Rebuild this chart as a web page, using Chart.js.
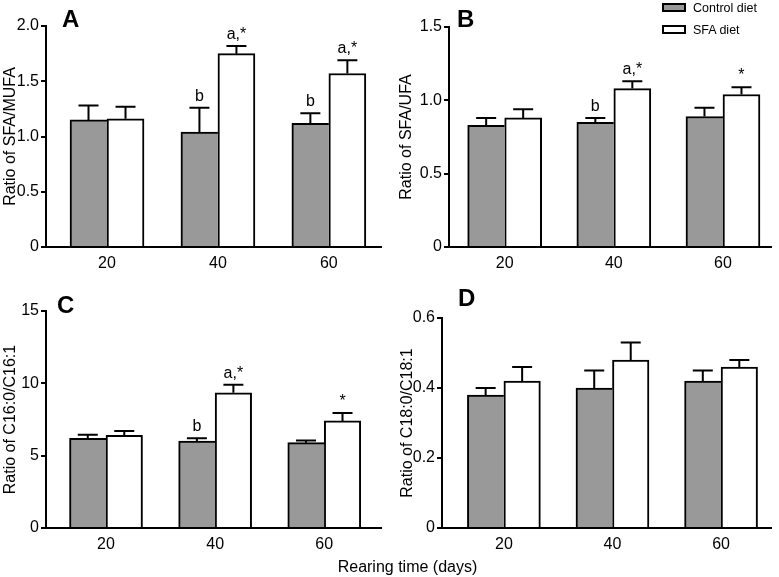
<!DOCTYPE html>
<html>
<head>
<meta charset="utf-8">
<script src="https://cdn.jsdelivr.net/npm/chart.js@4.4.0/dist/chart.umd.min.js"></script>
<style>
  body { margin: 0; background: #fff; }
  #fig { position: relative; width: 779px; height: 577px; font-family: 'Liberation Sans', Arial, sans-serif; color: #000; }
  #fig canvas { position: absolute; }
  .legend { position: absolute; left: 662px; font-size: 12.5px; line-height: 14px; }
  .legend span.box { display: inline-block; width: 20px; height: 5px; border: 2px solid #000; vertical-align: middle; margin-right: 7px; position: relative; top: -1px; }
  #xtitle { position: absolute; left: 0; width: 815px; top: 558px; text-align: center; font-size: 16px; }
</style>
</head>
<body>
<div id="fig">
  <canvas id="panelA" width="390" height="280" style="left:0;top:0"></canvas>
  <canvas id="panelB" width="389" height="280" style="left:390px;top:0"></canvas>
  <canvas id="panelC" width="390" height="297" style="left:0;top:280px"></canvas>
  <canvas id="panelD" width="389" height="297" style="left:390px;top:280px"></canvas>
  <div class="legend" style="top:1px"><span class="box" id="boxControl"></span>Control diet</div>
  <div class="legend" style="top:23px"><span class="box" id="boxSfa"></span>SFA diet</div>
  <div id="xtitle">Rearing time (days)</div>
</div>
<script>
Chart.defaults.font.family = "'Liberation Sans', Arial, sans-serif";
Chart.defaults.color = '#000';

const days = ['20', '40', '60'];
const seriesNames = ['Control diet', 'SFA diet'];
const controlColor = '#999999';
const sfaColor = '#ffffff';

// A: SFA/MUFA
const sfaMufaControl = [1.15, 1.04, 1.12];
const sfaMufaControlErr = [0.13, 0.22, 0.09];
const sfaMufaSfa = [1.16, 1.75, 1.57];
const sfaMufaSfaErr = [0.11, 0.07, 0.12];
const sfaMufaControlMarks = ['', 'b', 'b'];
const sfaMufaSfaMarks = ['', 'a,*', 'a,*'];

// B: SFA/UFA
const sfaUfaControl = [0.83, 0.85, 0.89];
const sfaUfaControlErr = [0.05, 0.03, 0.06];
const sfaUfaSfa = [0.88, 1.08, 1.04];
const sfaUfaSfaErr = [0.06, 0.05, 0.05];
const sfaUfaControlMarks = ['', 'b', ''];
const sfaUfaSfaMarks = ['', 'a,*', '*'];

// C: C16:0/C16:1
const c16Control = [6.2, 6.0, 5.9];
const c16ControlErr = [0.25, 0.2, 0.15];
const c16Sfa = [6.4, 9.35, 7.4];
const c16SfaErr = [0.3, 0.55, 0.55];
const c16ControlMarks = ['', 'b', ''];
const c16SfaMarks = ['', 'a,*', '*'];

// D: C18:0/C18:1
const c18Control = [0.38, 0.40, 0.42];
const c18ControlErr = [0.02, 0.05, 0.03];
const c18Sfa = [0.42, 0.48, 0.46];
const c18SfaErr = [0.04, 0.05, 0.02];

document.getElementById('boxControl').style.background = controlColor;
document.getElementById('boxSfa').style.background = sfaColor;

// error bars + significance letters
const errorBars = {
  id: 'errorBars',
  afterDatasetsDraw(chart) {
    const ctx = chart.ctx;
    const y = chart.scales.y;
    chart.data.datasets.forEach((ds, di) => {
      chart.getDatasetMeta(di).data.forEach((bar, i) => {
        const top = y.getPixelForValue(ds.data[i].y + ds.errors[i]);
        ctx.save();
        ctx.strokeStyle = '#000';
        ctx.lineWidth = 2;
        ctx.beginPath();
        ctx.moveTo(bar.x, bar.y);
        ctx.lineTo(bar.x, top);
        ctx.moveTo(bar.x - 10, top);
        ctx.lineTo(bar.x + 10, top);
        ctx.stroke();
        if (ds.marks && ds.marks[i]) {
          ctx.fillStyle = '#000';
          ctx.font = "16px 'Liberation Sans', Arial, sans-serif";
          ctx.textAlign = 'center';
          ctx.textBaseline = 'alphabetic';
          ctx.fillText(ds.marks[i], bar.x, top - 7);
        }
        ctx.restore();
      });
    });
  }
};

const panelLetter = {
  id: 'panelLetter',
  afterDraw(chart, args, opts) {
    const ctx = chart.ctx;
    ctx.save();
    ctx.fillStyle = '#000';
    ctx.font = "bold 24px 'Liberation Sans', Arial, sans-serif";
    ctx.textBaseline = 'alphabetic';
    ctx.fillText(opts.text, opts.x, opts.y);
    ctx.restore();
  }
};

function toPoints(values) {
  return values.map((v, i) => ({ x: i, y: v }));
}

function makePanel(p) {
  const el = document.getElementById(p.id);
  const W = el.width, H = el.height;
  new Chart(el, {
    type: 'bar',
    data: {
      datasets: [
        {
          label: seriesNames[0],
          data: toPoints(p.control),
          errors: p.controlErr,
          marks: p.controlMarks,
          backgroundColor: controlColor,
          borderColor: '#000',
          borderWidth: { top: 2, left: 2, right: 0, bottom: 0 },
          borderSkipped: false,
          barThickness: p.barW
        },
        {
          label: seriesNames[1],
          data: toPoints(p.sfa),
          errors: p.sfaErr,
          marks: p.sfaMarks,
          backgroundColor: sfaColor,
          borderColor: '#000',
          borderWidth: { top: 2, left: 2, right: 2, bottom: 0 },
          borderSkipped: false,
          barThickness: p.barW
        }
      ]
    },
    options: {
      responsive: false,
      animation: false,
      devicePixelRatio: 1,
      layout: { padding: { top: p.top, right: W - p.right, bottom: 0, left: 0 } },
      plugins: {
        legend: { display: false },
        tooltip: { enabled: false },
        panelLetter: { text: p.letter, x: p.letterX, y: p.letterY }
      },
      scales: {
        x: {
          type: 'linear',
          offset: false,
          min: p.xMin,
          max: p.xMax,
          afterBuildTicks: s => { s.ticks = days.map((d, i) => ({ value: i })); },
          afterFit: s => { s.height = H - p.bottom; },
          ticks: {
            callback: v => days[v],
            font: { size: 16 },
            padding: 7,
            maxRotation: 0
          },
          grid: { display: false, drawTicks: false },
          border: { display: true, color: '#000', width: 2 }
        },
        y: {
          min: 0,
          max: p.yMax,
          afterFit: s => { s.width = p.left; },
          ticks: {
            stepSize: p.yStep,
            font: { size: 16 },
            padding: 2,
            callback: v => v === 0 ? '0' : (p.yStep < 1 ? v.toFixed(1) : String(v))
          },
          grid: { drawOnChartArea: false, drawTicks: true, tickLength: 5, color: '#000', lineWidth: 2 },
          border: { display: true, color: '#000', width: 2 },
          title: {
            display: true,
            text: p.yTitle,
            font: { size: 16 },
            padding: { top: p.titlePad, bottom: 0 }
          }
        }
      }
    },
    plugins: [errorBars, panelLetter]
  });
}

makePanel({
  id: 'panelA', letter: 'A', letterX: 62, letterY: 27,
  control: sfaMufaControl, controlErr: sfaMufaControlErr, controlMarks: sfaMufaControlMarks,
  sfa: sfaMufaSfa, sfaErr: sfaMufaSfaErr, sfaMarks: sfaMufaSfaMarks,
  yTitle: 'Ratio of SFA/MUFA', yMax: 2.0, yStep: 0.5,
  left: 46, right: 381, top: 26, bottom: 247, xMin: -0.55, xMax: 2.47, barW: 37, titlePad: 1
});
makePanel({
  id: 'panelB', letter: 'B', letterX: 67, letterY: 27,
  control: sfaUfaControl, controlErr: sfaUfaControlErr, controlMarks: sfaUfaControlMarks,
  sfa: sfaUfaSfa, sfaErr: sfaUfaSfaErr, sfaMarks: sfaUfaSfaMarks,
  yTitle: 'Ratio of SFA/UFA', yMax: 1.5, yStep: 0.5,
  left: 59, right: 381, top: 27, bottom: 247, xMin: -0.51, xMax: 2.44, barW: 37, titlePad: 7
});
makePanel({
  id: 'panelC', letter: 'C', letterX: 57, letterY: 33,
  control: c16Control, controlErr: c16ControlErr, controlMarks: c16ControlMarks,
  sfa: c16Sfa, sfaErr: c16SfaErr, sfaMarks: c16SfaMarks,
  yTitle: 'Ratio of C16:0/C16:1', yMax: 15, yStep: 5,
  left: 46, right: 381, top: 31, bottom: 248, xMin: -0.55, xMax: 2.52, barW: 36.5, titlePad: 1
});
makePanel({
  id: 'panelD', letter: 'D', letterX: 68, letterY: 26,
  control: c18Control, controlErr: c18ControlErr, controlMarks: [],
  sfa: c18Sfa, sfaErr: c18SfaErr, sfaMarks: [],
  yTitle: 'Ratio of C18:0/C18:1', yMax: 0.6, yStep: 0.2,
  left: 52, right: 381, top: 38, bottom: 248, xMin: -0.57, xMax: 2.46, barW: 36.5, titlePad: 8
});
</script>
</body>
</html>
